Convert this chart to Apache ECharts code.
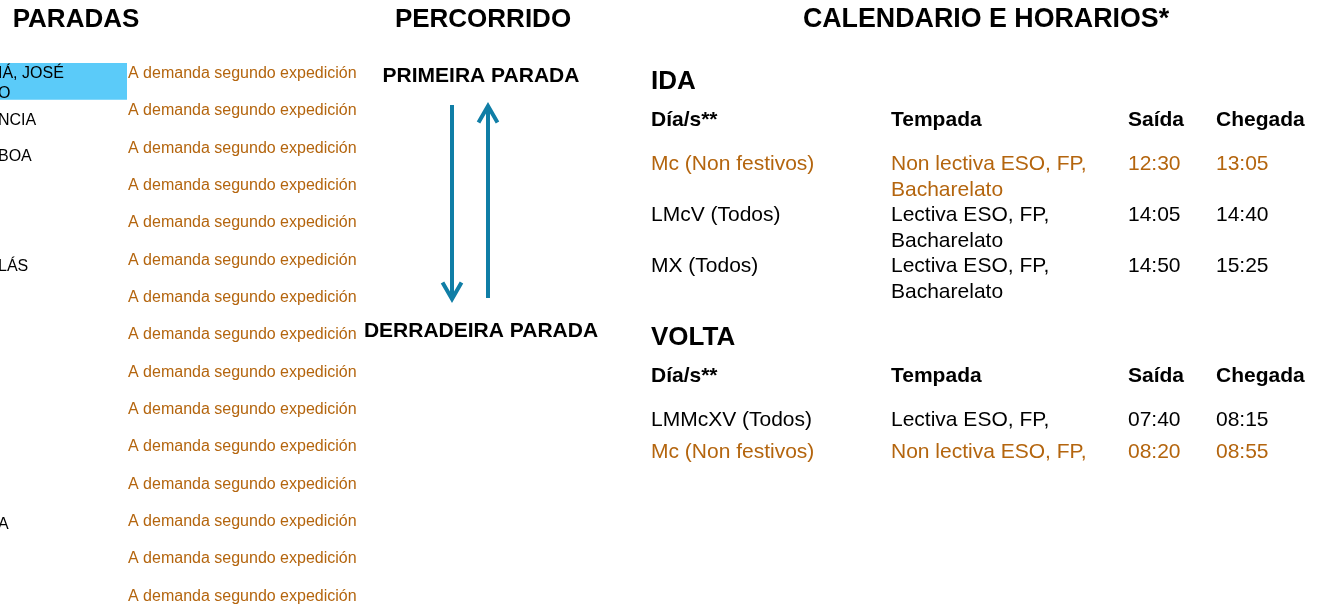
<!DOCTYPE html>
<html>
<head>
<meta charset="utf-8">
<script src="https://cdn.jsdelivr.net/npm/echarts@6/dist/echarts.min.js"></script>
<style>
html,body{margin:0;padding:0;background:#ffffff;}
#chart{width:1324px;height:614px;}
</style>
</head>
<body>
<div id="chart"></div>
<script>
// ---------- data ----------
const SECTION_TITLES = ['PARADAS', 'PERCORRIDO', 'CALENDARIO E HORARIOS*'];
const STOP_NAMES = ['IÁ, JOSÉ\nO', 'NCIA', 'BOA', '', '', 'LÁS', '', '', '', '', '', '', 'A', '', ''];
const STOP_NOTES = [
  'A demanda segundo expedición', 'A demanda segundo expedición', 'A demanda segundo expedición',
  'A demanda segundo expedición', 'A demanda segundo expedición', 'A demanda segundo expedición',
  'A demanda segundo expedición', 'A demanda segundo expedición', 'A demanda segundo expedición',
  'A demanda segundo expedición', 'A demanda segundo expedición', 'A demanda segundo expedición',
  'A demanda segundo expedición', 'A demanda segundo expedición', 'A demanda segundo expedición'
];
const HIGHLIGHTED_STOP = 0;
const ROUTE_ENDS = ['PRIMEIRA PARADA', 'DERRADEIRA PARADA'];
const TRIP_TITLES = ['IDA', 'VOLTA'];
const TABLE_HEADERS = ['Día/s**', 'Tempada', 'Saída', 'Chegada'];
const IDA_DAYS = ['Mc (Non festivos)', 'LMcV (Todos)', 'MX (Todos)'];
const IDA_SEASONS = ['Non lectiva ESO, FP, Bacharelato', 'Lectiva ESO, FP, Bacharelato', 'Lectiva ESO, FP, Bacharelato'];
const IDA_DEPARTURES = ['12:30', '14:05', '14:50'];
const IDA_ARRIVALS = ['13:05', '14:40', '15:25'];
const IDA_NON_LECTIVE = [true, false, false];
const VOLTA_DAYS = ['LMMcXV (Todos)', 'Mc (Non festivos)'];
const VOLTA_SEASONS = ['Lectiva ESO, FP,', 'Non lectiva ESO, FP,'];
const VOLTA_DEPARTURES = ['07:40', '08:20'];
const VOLTA_ARRIVALS = ['08:15', '08:55'];
const VOLTA_NON_LECTIVE = [false, true];

// ---------- style / layout ----------
const FONT = '"Liberation Sans", Arial, Helvetica, sans-serif';
const ORANGE = '#B4650E';
const INK = '#000000';
const BLUE = '#107EA6';
const HILITE = '#5BCBF9';
const TEXT_DY = 2;
const SECTION_X = [76, 483, 986];
const SECTION_SIZE = [26, 26, 26.8];
const SECTION_Y = 18;
const COL_X = [0, 240, 477, 565];
const SEASON_WRAP = 230;
const LINE_H = 26;

const chart = echarts.init(document.getElementById('chart'), null, { renderer: 'canvas' });

function hiddenValueAxis(gi, inverse) {
  return { type: 'value', gridIndex: gi, min: 0, max: 1, show: false, inverse: !!inverse };
}
function hiddenCatAxis(gi, n) {
  const d = [];
  for (let i = 0; i < n; i++) d.push(String(i));
  return { type: 'category', gridIndex: gi, data: d, inverse: true, show: false };
}

function tableSeries(gi, title, days, seasons, deps, arrs, flags) {
  return {
    type: 'custom', xAxisIndex: gi, yAxisIndex: gi, silent: true, z: 3,
    data: days.map((d, i) => [0, i]),
    renderItem: function (params, api) {
      const i = params.dataIndex;
      const cs = params.coordSys;
      const yc = api.coord([0, i])[1] + TEXT_DY;
      const fill = flags[i] ? ORANGE : INK;
      const cells = [days[i], seasons[i], deps[i], arrs[i]];
      const children = cells.map((t, c) => {
        const st = {
          text: t, fill: fill, fontSize: 21, fontFamily: FONT,
          align: 'left', verticalAlign: 'top', lineHeight: LINE_H
        };
        if (c === 1) { st.width = SEASON_WRAP; st.overflow = 'break'; }
        return { type: 'text', x: cs.x + COL_X[c], y: yc - LINE_H / 2, style: st };
      });
      if (i === 0) {
        TABLE_HEADERS.forEach((h, c) => children.push({
          type: 'text', x: cs.x + COL_X[c], y: yc - 44,
          style: { text: h, fill: INK, fontSize: 21, fontWeight: 'bold', fontFamily: FONT, align: 'left', verticalAlign: 'middle' }
        }));
        children.push({
          type: 'text', x: cs.x, y: yc - 82,
          style: { text: title, fill: INK, fontSize: 26, fontWeight: 'bold', fontFamily: FONT, align: 'left', verticalAlign: 'middle' }
        });
      }
      return { type: 'group', children: children };
    }
  };
}

// arrow from one route end to the other, drawn through the grid's scales
function arrowSeries(gi, col, fromEnd, toEnd) {
  return {
    type: 'custom', xAxisIndex: gi, yAxisIndex: gi, silent: true, z: 2,
    data: [[col, fromEnd, toEnd]],
    renderItem: function (params, api) {
      const a = api.coord([api.value(0), api.value(1)]);
      const b = api.coord([api.value(0), api.value(2)]);
      const dir = b[1] > a[1] ? 1 : -1;
      const vy = b[1] - dir * 4;          // vertex of chevron (miter reaches tip)
      const armY = vy - dir * 16.5;
      const lineStyle = { stroke: BLUE, lineWidth: 4, fill: null, lineJoin: 'miter', lineCap: 'butt' };
      return {
        type: 'group',
        children: [
          { type: 'line', shape: { x1: a[0], y1: a[1], x2: b[0], y2: vy }, style: lineStyle },
          { type: 'polyline', shape: { points: [[b[0] - 9.5, armY], [b[0], vy], [b[0] + 9.5, armY]] }, style: lineStyle }
        ]
      };
    }
  };
}

const option = {
  backgroundColor: '#ffffff',
  animation: false,
  grid: [
    { left: 128, top: 53, width: 230, height: 560 },   // 0 notes
    { left: 0, top: 63, width: 127, height: 560 },     // 1 stop names
    { left: 452, top: 105, width: 36, height: 198 },   // 2 route (ida)
    { left: 452, top: 102, width: 36, height: 196 },   // 3 route (volta)
    { left: 651, top: 136.5, width: 660, height: 153 },// 4 ida table
    { left: 651, top: 402, width: 660, height: 64 }    // 5 volta table
  ],
  xAxis: [0, 1, 2, 3, 4, 5].map(g => hiddenValueAxis(g, false)),
  yAxis: [
    hiddenCatAxis(0, STOP_NOTES.length),
    hiddenCatAxis(1, STOP_NAMES.length),
    hiddenValueAxis(2, true),
    hiddenValueAxis(3, true),
    hiddenCatAxis(4, IDA_DAYS.length),
    hiddenCatAxis(5, VOLTA_DAYS.length)
  ],
  graphic: SECTION_TITLES.map((t, k) => ({
    type: 'text', x: SECTION_X[k], y: SECTION_Y + TEXT_DY, silent: true,
    style: { text: t, fill: INK, fontSize: SECTION_SIZE[k], fontWeight: 'bold', fontFamily: FONT, align: 'center', verticalAlign: 'middle' }
  })),
  series: [
    {
      type: 'bar', xAxisIndex: 1, yAxisIndex: 1, silent: true, z: 1,
      barWidth: '100%',
      itemStyle: { color: HILITE },
      data: STOP_NAMES.map((_, i) => (i === HIGHLIGHTED_STOP ? 1 : null))
    },
    {
      type: 'custom', xAxisIndex: 1, yAxisIndex: 1, silent: true, z: 3,
      data: STOP_NAMES.map((_, i) => [0, i]),
      renderItem: function (params, api) {
        const i = params.dataIndex;
        const p = api.coord([0, i]);
        return {
          type: 'text', x: p[0] - 2, y: p[1] + TEXT_DY,
          style: { text: STOP_NAMES[i], fill: INK, fontSize: 16, fontFamily: FONT, align: 'left', verticalAlign: 'middle', lineHeight: 20 }
        };
      }
    },
    {
      type: 'custom', xAxisIndex: 0, yAxisIndex: 0, silent: true, z: 3,
      data: STOP_NOTES.map((_, i) => [0, i]),
      renderItem: function (params, api) {
        const i = params.dataIndex;
        const p = api.coord([0, i]);
        return {
          type: 'text', x: p[0], y: p[1] + TEXT_DY,
          style: { text: STOP_NOTES[i], fill: ORANGE, fontSize: 16, fontFamily: FONT, align: 'left', verticalAlign: 'middle' }
        };
      }
    },
    arrowSeries(2, 0, 0, ROUTE_ENDS.length - 1),
    arrowSeries(3, 1, ROUTE_ENDS.length - 1, 0),
    {
      type: 'custom', xAxisIndex: 2, yAxisIndex: 2, silent: true, z: 3,
      data: ROUTE_ENDS.map((_, i) => [0.5, i]),
      renderItem: function (params, api) {
        const i = params.dataIndex;
        const p = api.coord([0.5, i]);
        return {
          type: 'text', x: p[0] + 11, y: p[1] + TEXT_DY + (i === 0 ? -31 : 26),
          style: { text: ROUTE_ENDS[i], fill: INK, fontSize: 21, fontWeight: 'bold', fontFamily: FONT, align: 'center', verticalAlign: 'middle' }
        };
      }
    },
    tableSeries(4, TRIP_TITLES[0], IDA_DAYS, IDA_SEASONS, IDA_DEPARTURES, IDA_ARRIVALS, IDA_NON_LECTIVE),
    tableSeries(5, TRIP_TITLES[1], VOLTA_DAYS, VOLTA_SEASONS, VOLTA_DEPARTURES, VOLTA_ARRIVALS, VOLTA_NON_LECTIVE)
  ]
};
chart.setOption(option);
</script>
</body>
</html>
